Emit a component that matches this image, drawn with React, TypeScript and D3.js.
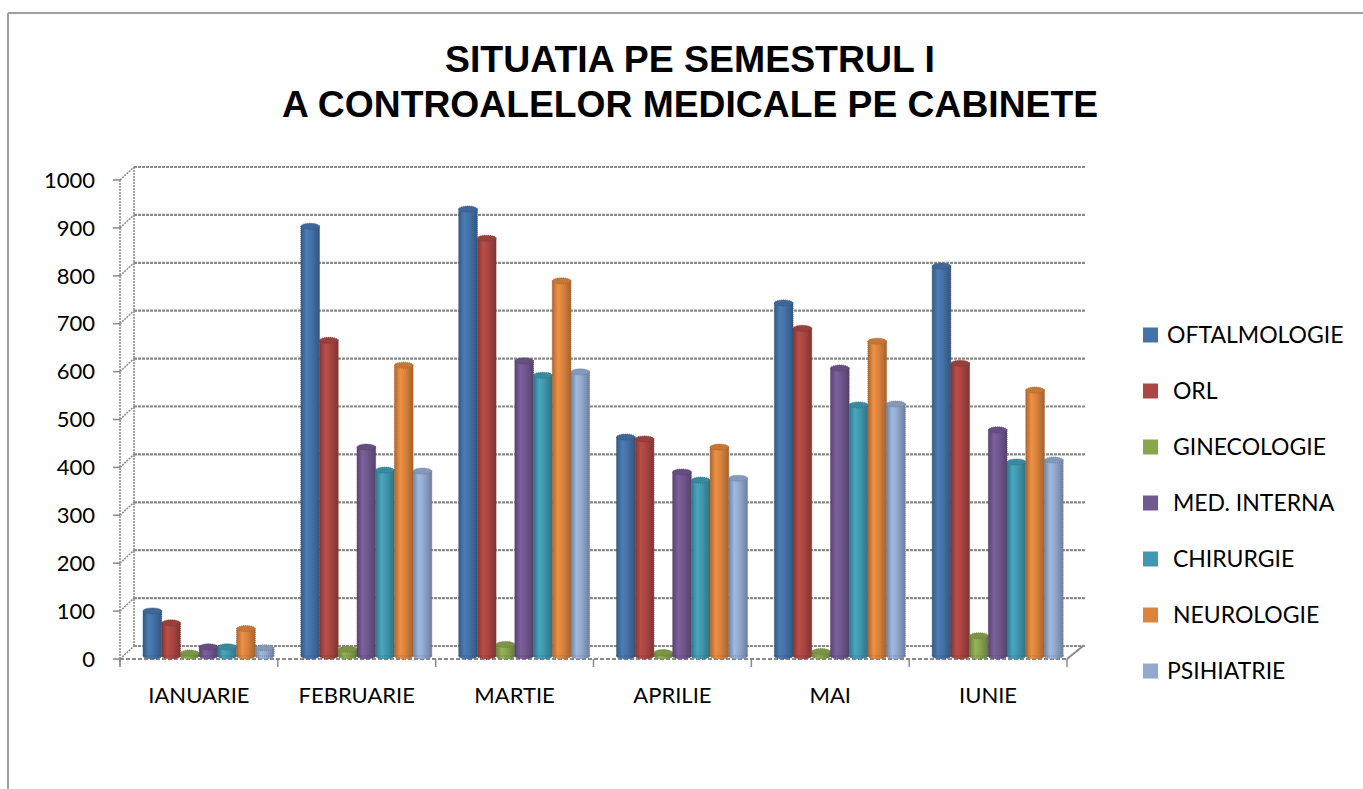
import * as d3 from 'd3';

// chart data
const months = ['IANUARIE', 'FEBRUARIE', 'MARTIE', 'APRILIE', 'MAI', 'IUNIE'];
const seriesNames = ['OFTALMOLOGIE', ' ORL', ' GINECOLOGIE', ' MED. INTERNA', ' CHIRURGIE', ' NEUROLOGIE', 'PSIHIATRIE'];
const seriesColors = ['#4572A7', '#AA4643', '#89A54E', '#71588F', '#4198AF', '#DB843D', '#93A9CF'];
const oftalmologie = [90, 893, 929, 453, 733, 810];
const orl = [65, 655, 868, 449, 680, 607];
const ginecologie = [2, 10, 20, 3, 5, 38];
const medInterna = [15, 432, 612, 380, 597, 468];
const chirurgie = [15, 384, 582, 363, 520, 401];
const neurologie = [53, 603, 779, 432, 653, 551];
const psihiatrie = [13, 382, 589, 367, 522, 405];
const yTicks = [0, 100, 200, 300, 400, 500, 600, 700, 800, 900, 1000];

const seriesValues = [oftalmologie, orl, ginecologie, medInterna, chirurgie, neurologie, psihiatrie];

const W = 1363;
const H = 789;
const FONT = "Lato, 'Open Sans', sans-serif";

// 3d depth offsets
const DX = 14;
const DY = 13;

export default function App() {
  const x = d3.scaleBand<string>().domain(months).range([120, 1067]);
  const y = d3.scaleLinear().domain([0, 1000]).range([659, 180]);
  const inner = d3.scaleBand<number>().domain(d3.range(seriesNames.length)).range([23, 23 + 131]);
  const bw = inner.bandwidth();
  const grid = '#8a8a8a';

  return (
    <svg width={W} height={H} style={{ position: 'absolute', left: 0, top: 0, background: '#fff' }}>
      <defs>
        {seriesColors.map((c, i) => {
          const col = d3.color(c)!;
          return (
            <linearGradient key={i} id={`g${i}`} x1="0" x2="1" y1="0" y2="0">
              <stop offset="0%" stopColor={col.darker(0.7).formatHex()} />
              <stop offset="30%" stopColor={col.brighter(0.25).formatHex()} />
              <stop offset="55%" stopColor={col.formatHex()} />
              <stop offset="100%" stopColor={col.darker(0.8).formatHex()} />
            </linearGradient>
          );
        })}
      </defs>

      {/* outer border */}
      <line x1={8} x2={W} y1={13} y2={13} stroke="#a0a0a0" strokeWidth={2} />
      <line x1={8} x2={8} y1={13} y2={H} stroke="#a0a0a0" strokeWidth={2} />

      {/* title */}
      <g fontFamily="'Liberation Sans', Arial, sans-serif" fontWeight="bold" fontSize={36} textAnchor="middle" fill="#000">
        <text x={690} y={72} textLength={490} lengthAdjust="spacingAndGlyphs">SITUATIA PE SEMESTRUL I</text>
        <text x={690} y={117} textLength={816} lengthAdjust="spacingAndGlyphs">A CONTROALELOR  MEDICALE PE CABINETE</text>
      </g>

      {/* back wall gridlines + side wall diagonals */}
      {yTicks.map(t => (
        <g key={t}>
          <line x1={120 + DX} x2={1086} y1={y(t) - DY} y2={y(t) - DY} stroke={grid} strokeWidth={2.2} strokeDasharray="3 1" />
          <line x1={120} x2={120 + DX} y1={y(t)} y2={y(t) - DY} stroke={grid} strokeWidth={1.5} strokeDasharray="2 1" />
          <line x1={113} x2={120} y1={y(t)} y2={y(t)} stroke={grid} strokeWidth={1.5} />
          <text x={95} y={y(t)} dy="0.35em" textAnchor="end" fontFamily={FONT} fontSize={22} fill="#000">{t}</text>
        </g>
      ))}
      <line x1={120 + DX} x2={120 + DX} y1={y(1000) - DY} y2={y(0) - DY} stroke={grid} strokeWidth={1.5} strokeDasharray="2 1" />
      <line x1={120} x2={120} y1={y(1000)} y2={y(0) + 8} stroke={grid} strokeWidth={1.5} strokeDasharray="2 1" />

      {/* floor */}
      <line x1={120} x2={1067} y1={y(0)} y2={y(0)} stroke={grid} strokeWidth={2} strokeDasharray="4 2" />
      <line x1={1067} x2={1067 + DX + 2} y1={y(0)} y2={y(0) - DY} stroke={grid} strokeWidth={2} />
      {months.map(m => (
        <g key={m}>
          <line x1={x(m)!} x2={x(m)!} y1={y(0)} y2={y(0) + 8} stroke={grid} strokeWidth={1.5} />
          <text x={x(m)! + x.bandwidth() / 2} y={703} textAnchor="middle" fontFamily={FONT} fontSize={22} fill="#000">{m}</text>
        </g>
      ))}
      <line x1={1067} x2={1067} y1={y(0)} y2={y(0) + 8} stroke={grid} strokeWidth={1.5} />

      {/* cylinder bars */}
      {months.map((m, mi) => (
        <g key={m}>
          {seriesValues.map((vals, si) => {
            const col = d3.color(seriesColors[si])!;
            const x0 = x(m)! + inner(si)!;
            const top = y(vals[mi]) - 5;
            const base = y(0) - 3;
            const cx = x0 + bw / 2;
            const edge = col.darker(0.9).formatHex();
            return (
              <g key={si}>
                <ellipse cx={cx} cy={base} rx={bw / 2} ry={3} fill={`url(#g${si})`} stroke={edge} strokeWidth={0.8} strokeDasharray="1 1" />
                <rect x={x0} y={top} width={bw} height={Math.max(0, base - top)} fill={`url(#g${si})`} stroke={edge} strokeWidth={0.8} strokeDasharray="1 1" />
                <ellipse cx={cx} cy={top} rx={bw / 2} ry={3} fill={col.darker(0.3).formatHex()} stroke={edge} strokeWidth={0.8} strokeDasharray="1 1" />
              </g>
            );
          })}
        </g>
      ))}

      {/* legend */}
      {seriesNames.map((n, i) => (
        <g key={n} transform={`translate(1143, ${335 + i * 56})`}>
          <rect x={0} y={-7.5} width={15} height={15} fill={seriesColors[i]} />
          <text x={24} dy="0.35em" fontFamily={FONT} fontSize={23} fill="#000" style={{ whiteSpace: 'pre' }}>{n}</text>
        </g>
      ))}
    </svg>
  );
}
